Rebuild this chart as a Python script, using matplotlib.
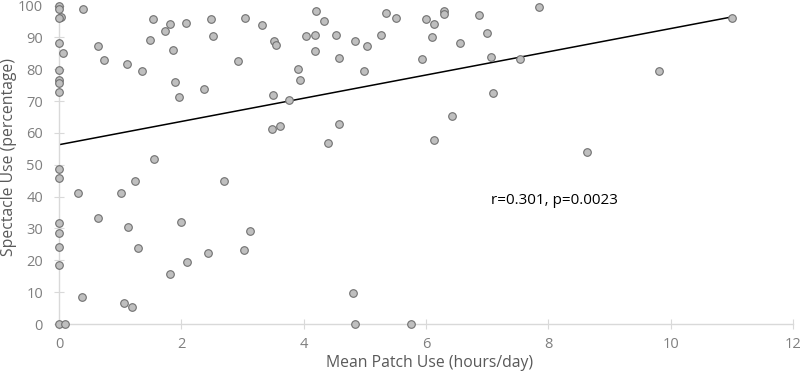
import matplotlib
matplotlib.use("Agg")
import matplotlib.pyplot as plt
import numpy as np

# mean patch use (hours/day) vs spectacle use (%)
patch_hours = [
    0, 0, 0.04, 0, 0, 0.06, 0.39, 0.63, 0.74, 0, 0, 0, 0, 0, 0,
    1.11, 1.35, 1.49, 1.54, 1.55, 1.74, 1.82, 1.86, 1.90, 1.96, 2.08,
    2.37, 2.49, 2.52, 2.69, 1.25, 2.92, 3.04, 3.32, 0.31, 1.02,
    0, 0, 0, 0, 0.63, 1.13, 1.29, 1.99, 3.13, 3.03, 2.43, 2.09, 1.82,
    0.38, 1.06, 1.20, 0, 0.10,
    3.52, 3.54, 4.20, 4.33, 4.04, 4.19, 4.19, 4.53, 4.57, 4.84, 5.03,
    4.98, 5.27, 5.34, 5.51, 3.90, 3.94, 3.50, 3.76, 3.48, 3.61, 4.58,
    4.40, 6.00, 6.13, 6.10, 6.30, 6.29, 6.86, 7.00, 6.56, 5.93, 7.07,
    7.54, 7.09, 6.43, 6.13, 4.80, 4.84, 5.75, 7.85, 11.0, 9.81, 8.63,
]
spectacle_pct = [
    100, 99, 96.5, 96, 88.2, 85, 98.8, 87.3, 82.9, 79.7, 76.5, 75.7, 72.8, 48.6, 45.7,
    81.6, 79.5, 89.1, 95.8, 51.9, 91.9, 94.2, 86.0, 76.0, 71.3, 94.4,
    73.9, 95.8, 90.6, 45.0, 45.0, 82.7, 96.0, 94.0, 41.0, 41.0,
    31.6, 28.5, 24.2, 18.6, 33.3, 30.4, 24.0, 32.1, 29.2, 23.3, 22.3, 19.4, 15.7,
    8.5, 6.7, 5.3, 0, 0,
    88.8, 87.7, 98.2, 95.3, 90.6, 90.8, 85.6, 90.8, 83.4, 88.8, 87.3,
    79.5, 90.8, 97.7, 96.2, 80.2, 76.5, 71.9, 70.3, 61.3, 62.2, 62.9,
    57.0, 95.8, 94.2, 90.2, 98.4, 97.3, 97.1, 91.5, 88.3, 83.1, 84.0,
    83.1, 72.6, 65.4, 57.9, 9.8, 0, 0, 99.7, 96.0, 79.3, 53.9,
]
stats_label = "r=0.301, p=0.0023"

x = np.array(patch_hours)
y = np.array(spectacle_pct)
slope, intercept = np.polyfit(x, y, 1)

plt.rcParams["font.family"] = ["Open Sans", "DejaVu Sans"]

fig = plt.figure(figsize=(8, 3.72), dpi=100)
ax = fig.add_axes([0.07375, 0.129, 0.9175, 0.856])

ax.scatter(x, y, s=30, facecolor="#bfbfbf", edgecolor="#707070",
           linewidth=0.8, zorder=3, clip_on=False)
xl = np.array([x.min(), x.max()])
ax.plot(xl, intercept + slope * xl, color="black", linewidth=1.1, zorder=2)

ax.set_xlim(0, 12)
ax.set_ylim(0, 100)
ax.set_xticks(range(0, 13, 2))
ax.set_yticks(range(0, 101, 10))

for side in ("top", "right"):
    ax.spines[side].set_visible(False)
for side in ("left", "bottom"):
    ax.spines[side].set_color("#d9d9d9")
    ax.spines[side].set_linewidth(1.0)

ax.tick_params(direction="inout", length=7, width=0.8, color="#d9d9d9",
               labelcolor="#7f7f7f", labelsize=10.5)
ax.tick_params(axis="x", pad=6)
ax.tick_params(axis="y", pad=8)

ax.set_xlabel("Mean Patch Use (hours/day)", fontsize=11.3, color="#595959", va="center")
ax.set_ylabel("Spectacle Use (percentage)", fontsize=11.3, color="#595959", va="center")
ax.xaxis.set_label_coords(0.5054, -0.1225)
ax.yaxis.set_label_coords(-0.0675, 0.524)

ax.text(7.06, 38.7, stats_label, fontsize=11, color="black", va="center")

fig.savefig("out.png", dpi=100)
